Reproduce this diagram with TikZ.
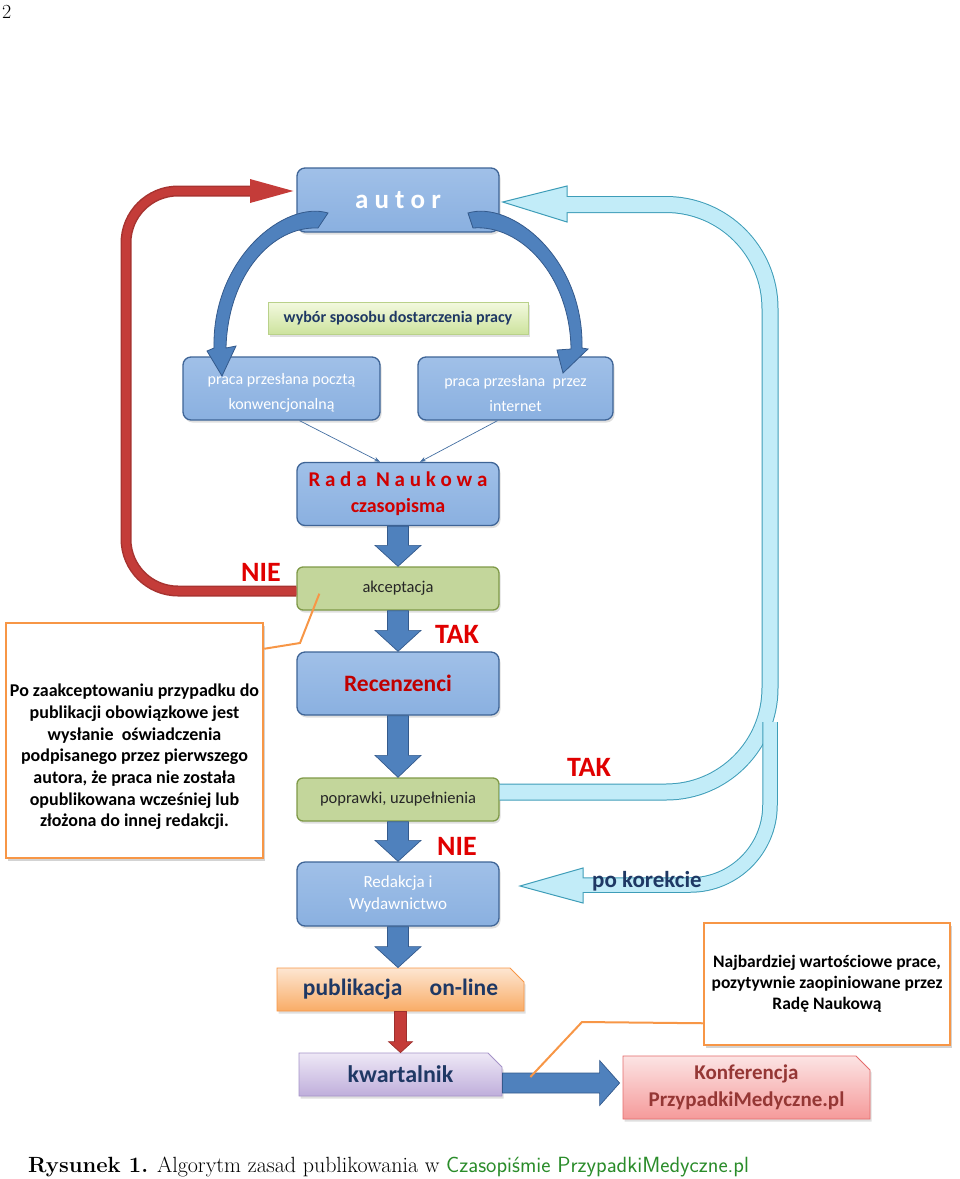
\documentclass[tikz,border=0pt]{standalone}
\usepackage{fontspec}
\usetikzlibrary{calc,shapes.misc,shadows,arrows.meta}
\newfontfamily\calfont{Carlito}
\newcommand\fsz[2]{\fontsize{#1}{#2}\selectfont}
\definecolor{bfill}{HTML}{8AB0E0}
\definecolor{bfilltop}{HTML}{A0C0E8}
\definecolor{bedge}{HTML}{3E6496}
\definecolor{gfill}{HTML}{C3D69B}
\definecolor{gedge}{HTML}{7F9A48}
\definecolor{wyboredge}{HTML}{B9D18A}
\definecolor{arrowblue}{HTML}{4F81BD}
\definecolor{arrowedge}{HTML}{345A8C}
\definecolor{lbfill}{HTML}{C2ECF8}
\definecolor{lbedge}{HTML}{3E9DB8}
\definecolor{redband}{HTML}{C43C39}
\definecolor{labred}{HTML}{E00000}
\definecolor{navy}{HTML}{1F3864}
\definecolor{orangeline}{HTML}{F79646}
\definecolor{capgreen}{HTML}{2A8C2A}
\definecolor{konftext}{HTML}{953735}
\definecolor{darkred}{HTML}{C00000}
\definecolor{radared}{HTML}{D00000}
% vertical block arrow: from, to, half shaft, half head, head length, style
\newcommand\vblock[6]{\path[#6] let \p1=(#1), \p2=(#2) in
  (\x1-#3,\y1) -- (\x1-#3,\y2+#5) -- (\x1-#4,\y2+#5) -- (\x1,\y2)
  -- (\x1+#4,\y2+#5) -- (\x1+#3,\y2+#5) -- (\x1+#3,\y1) -- cycle;}
% horizontal block arrow (pointing right)
\newcommand\hblock[6]{\path[#6] let \p1=(#1), \p2=(#2) in
  (\x1,\y1+#3) -- (\x2-#5,\y1+#3) -- (\x2-#5,\y1+#4) -- (\x2,\y1)
  -- (\x2-#5,\y1-#4) -- (\x2-#5,\y1-#3) -- (\x1,\y1-#3) -- cycle;}
\begin{document}
\begin{tikzpicture}[x=1pt,y=-1pt,
  shad/.style={drop shadow={opacity=0.25,shadow xshift=1.5pt,shadow yshift=-2.5pt}},
  bluebox/.style={draw=bedge, line width=1.3pt, rounded corners=8pt, top color=bfilltop,
    bottom color=bfill, shad, text=white, align=center, inner sep=2pt},
  greenbox/.style={draw=gedge, line width=1.3pt, rounded corners=6pt, fill=gfill, shad,
    text=black!85, align=center, inner sep=2pt},
  snipbox/.style={chamfered rectangle, chamfered rectangle corners=north east,
    chamfered rectangle xsep=7pt, chamfered rectangle ysep=7pt, line width=0.8pt, shad,
    align=center, inner sep=2pt},
  callbox/.style={draw=orangeline, line width=2.5pt, fill=white,
    drop shadow={opacity=0.35,shadow xshift=2pt,shadow yshift=-2.5pt}},
  lab/.style={text=labred, font=\calfont\bfseries\fsz{28}{30}, inner sep=0pt},
  boxtext/.style={text=white, align=center, inner sep=0pt, font=\calfont\fsz{16}{25}},
  blockarrow/.style={fill=arrowblue, draw=arrowedge, line width=0.7pt},
  redblock/.style={fill=redband, draw=redband!80!black, line width=0.7pt},
  thinline/.style={draw=arrowblue!85!black, line width=0.7pt, -{Stealth[length=6pt,width=4.5pt]}},
  calloutline/.style={draw=orangeline, line width=2pt},
  lbout/.style={draw=lbedge, line width=17pt},
  lbin/.style={draw=lbfill, line width=15pt},
  lbhead/.style={fill=lbfill, draw=lbedge, line width=1pt, line join=miter},
  curvearrow/.style={fill=arrowblue, draw=arrowedge, line width=0.8pt}
]
\useasboundingbox (0,0) rectangle (960,1179);

% page number
\node[anchor=base west, inner sep=0pt, font=\fsz{20}{24}] (pnum) at (2,18) {2};

% boxes
\node[bluebox, minimum width=202pt, minimum height=64pt, font=\calfont\bfseries\fsz{27}{30}] (autor) at (398,200) {a u t o r};
\node[draw=wyboredge, line width=0.8pt, top color={rgb,255:red,243;green,249;blue,223}, bottom color={rgb,255:red,205;green,227;blue,158}, shad,
  minimum width=260pt, minimum height=32pt, text=navy, font=\calfont\bfseries\fsz{16}{19}, inner sep=1pt] (wybor) at (398,318) {wybór sposobu dostarczenia pracy};
\node[bluebox, minimum width=197pt, minimum height=63pt] (poczta) at (281.5,388.5) {};
\node[bluebox, minimum width=195pt, minimum height=63pt] (internet) at (515.5,388.5) {};
\node[bluebox, minimum width=202pt, minimum height=63pt, text=radared, font=\calfont\bfseries\fsz{21}{26}] (rada) at (398,494) {R a d a \ N a u k o w a\\{\fsz{20}{26}czasopisma}};
\node[greenbox, minimum width=202pt, minimum height=43pt, font=\calfont\fsz{16.5}{19}] (akc) at (398,588.5) {akceptacja};
\node[bluebox, minimum width=202pt, minimum height=63pt, text=darkred, font=\calfont\bfseries\fsz{23.5}{26}] (rec) at (398,683.5) {Recenzenci};
\node[greenbox, minimum width=202pt, minimum height=43pt, font=\calfont\fsz{16.5}{19}] (popr) at (398,799.5) {poprawki, uzupełnienia};
\node[bluebox, minimum width=202pt, minimum height=64pt, font=\calfont\fsz{17}{22}] (redak) at (398,894) {Redakcja i\\Wydawnictwo};
\node[snipbox, draw=orangeline, top color={rgb,255:red,253;green,230;blue,210}, bottom color={rgb,255:red,249;green,172;blue,102},
  minimum width=247pt, minimum height=43pt, text=navy, font=\calfont\bfseries\fsz{23.5}{26}] (publ) at (400.5,989.5) {publikacja \hspace{22pt}on-line};
\node[snipbox, draw={rgb,255:red,165;green,147;blue,200}, top color={rgb,255:red,238;green,232;blue,246}, bottom color={rgb,255:red,191;green,174;blue,219},
  minimum width=203pt, minimum height=43pt, text=navy, font=\calfont\bfseries\fsz{24}{26}] (kwart) at (400.5,1074.5) {kwartalnik};
\node[snipbox, draw={rgb,255:red,228;green,108;blue,108}, top color={rgb,255:red,252;green,228;blue,228}, bottom color={rgb,255:red,245;green,154;blue,154},
  minimum width=247pt, minimum height=57pt, text=konftext, font=\calfont\bfseries\fsz{21}{27}] (konf) at (746.5,1087.5) {Konferencja\\PrzypadkiMedyczne.pl};

% callouts
\node[callbox, minimum width=257pt, minimum height=235pt] (callL) at (134.5,740.5) {};
\node[align=center, inner sep=0pt, font=\calfont\bfseries\fsz{18}{21.7}] (callLt) at (134.5,757) {Po zaakceptowaniu przypadku do\\publikacji obowiązkowe jest\\wysłanie \ oświadczenia\\podpisanego przez pierwszego\\autora, że praca nie została\\opublikowana wcześniej lub\\złożona do innej redakcji.};
\node[callbox, minimum width=246pt, minimum height=122pt, align=center, font=\calfont\bfseries\fsz{17.5}{21}] (callR) at (827,984) {Najbardziej wartościowe prace,\\pozytywnie zaopiniowane przez\\Radę Naukową};

% thin connectors to Rada
\draw[thinline] ($(poczta.south)+(18,0)$) -- ($(rada.north)+(-18,0)$);
\draw[thinline] ($(internet.south)+(-18,0)$) -- ($(rada.north)+(22,0)$);

% red NIE arrow back to autor
\coordinate (rS) at ($(akc.west)+(0,2.5)$);
\coordinate (rB) at (126,591);
\coordinate (rT) at (126,191);
\coordinate (rE) at (252,191);
\draw[draw=redband!85!black, line width=11pt, rounded corners=52pt] (rS) -- (rB) -- (rT) -- (rE);
\draw[draw=redband, line width=8pt, rounded corners=52pt] (rS) -- (rB) -- (rT) -- (rE);
\fill[redband] (250,179) -- ($(autor.west)+(-3,-9)$) -- (250,203) -- cycle;

% light-blue TAK arrow back to autor
\coordinate (tS) at ($(popr.east)+(0,-7.5)$);
\coordinate (tB) at (770,792);
\coordinate (tT) at (770,204.5);
\coordinate (tE) at (567,204.5);
\coordinate (tTip) at ($(autor.east)+(3,2)$);
\draw[lbout, rounded corners=104pt] (tS) -- (tB) -- (tT) -- (tE);
\draw[lbhead] (567,186) -- (tTip) -- (567,222) -- cycle;
\draw[lbin, rounded corners=104pt] (tS) -- (tB) -- (tT) -- (561,204.5);

% branch: po korekcie
\coordinate (kS) at (770,722);
\coordinate (kB) at (770,885);
\coordinate (kE) at (583,885);
\coordinate (kTip) at (520,886);
\draw[draw=lbedge, line width=15.5pt, rounded corners=80pt] (kS) -- (kB) -- (kE);
\draw[lbhead] (583,868) -- (kTip) -- (583,903) -- cycle;
\draw[draw=lbfill, line width=13.5pt, rounded corners=80pt] (kS) -- (kB) -- (577,885);
\node[text=navy, font=\calfont\bfseries\fsz{23}{26}, inner sep=0pt] (pokor) at (647,881) {po korekcie};

% labels
\node[lab] (nie1) at (261,572) {NIE};
\node[lab] (tak1) at (457,634) {TAK};
\node[lab] (tak2) at (589,767) {TAK};
\node[lab] (nie2) at (457,846) {NIE};

% vertical block arrows
\vblock{rada.south}{akc.north}{10.5pt}{23pt}{21pt}{blockarrow}
\vblock{akc.south}{rec.north}{10.5pt}{23pt}{21pt}{blockarrow}
\vblock{rec.south}{popr.north}{10.5pt}{23pt}{22pt}{blockarrow}
\vblock{popr.south}{redak.north}{10.5pt}{23pt}{21pt}{blockarrow}
\vblock{redak.south}{publ.north}{10.5pt}{23pt}{21pt}{blockarrow}
\vblock{publ.south}{kwart.north}{6pt}{12pt}{11pt}{redblock}
\hblock{$(kwart.east)+(0,8.5)$}{$(konf.west)+(-3,0)$}{10pt}{22.5pt}{20pt}{blockarrow}

% callout lines
\coordinate (cl1) at (300,643);
\draw[calloutline] ($(callL.north east)+(0,27)$) -- (cl1) -- ($(akc.south west)+(23,-17)$);
\coordinate (cr1) at (582,1022);
\draw[calloutline] ($(callR.south west)+(0,-23)$) -- (cr1) -- ($(kwart.east)+(28,2.5)$);

% curved blue arrows from autor
\path[curvearrow] (328,213) .. controls (285,200) and (212,258) .. (214,348)
  -- (207,351) -- (222,376) -- (236,346) -- (226,348)
  .. controls (228,275) and (272,226) .. (318,228) -- cycle;
\path[curvearrow] (468,213) .. controls (511,200) and (584,258) .. (582,348)
  -- (588,349) -- (563,373) -- (557,350) -- (571,349)
  .. controls (570,275) and (520,224) .. (473,228) -- cycle;

% texts of the two delivery boxes, above the curved arrows
\node[boxtext] (pocztaT) at ($(poczta.center)+(0,4.5)$) {praca przesłana pocztą\\konwencjonalną};
\node[boxtext] (internetT) at ($(internet.center)+(0,4.5)$) {praca przesłana \ przez\\internet};

% caption
\node[anchor=base west, inner sep=0pt, font=\rmfamily\fsz{22}{26}] (cap) at (28,1172)
  {\textbf{Rysunek 1.} Algorytm zasad publikowania w \textcolor{capgreen}{\sffamily Czasopiśmie PrzypadkiMedyczne.pl}};
\end{tikzpicture}
\end{document}
